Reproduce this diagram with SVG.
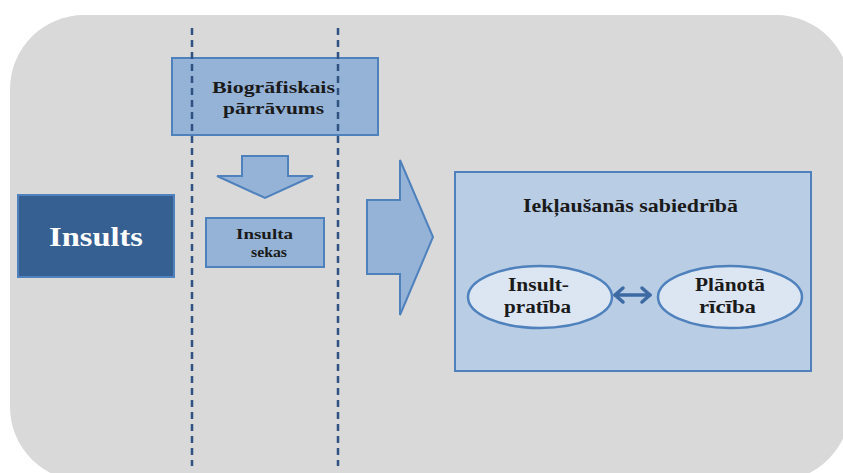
<svg xmlns="http://www.w3.org/2000/svg" width="843" height="473" viewBox="0 0 843 473">
<defs>
<style>
.box{fill:#95b3d7;stroke:#4f81bd;stroke-width:2}
.dash{stroke:#2f5283;stroke-width:2.5;stroke-dasharray:7 5;fill:none}
.ell{fill:#dce6f2;stroke:#4f81bd;stroke-width:2.5}
.t{font-family:'Liberation Serif','Times New Roman','DejaVu Serif',serif;font-weight:700;fill:#1a1a1a}
</style>
</defs>
<rect x="0" y="0" width="843" height="473" fill="#ffffff"/>
<rect x="10" y="15" width="840" height="466" rx="74" ry="74" fill="#d9d9d9"/>
<g id="biografiskais">
<rect class="box" x="172" y="58" width="206" height="77"/>
<text class="t" x="212" y="93" font-size="17.5" textLength="123" lengthAdjust="spacingAndGlyphs">Biogrāfiskais</text>
<text class="t" x="223" y="114" font-size="17.5" textLength="101" lengthAdjust="spacingAndGlyphs">pārrāvums</text>
</g>
<g id="arrow-down">
<polygon class="box" points="242,156 288,156 288,176 313,176 265,198 217,176 242,176"/>
</g>
<g id="insults">
<rect x="18" y="195" width="156" height="82" fill="#376092" stroke="#4f81bd" stroke-width="2"/>
<text class="t" x="49" y="246" font-size="27" textLength="94" lengthAdjust="spacingAndGlyphs" style="fill:#ffffff">Insults</text>
</g>
<g id="insulta-sekas">
<rect class="box" x="206" y="218" width="118" height="49"/>
<text class="t" x="236" y="239" font-size="15" textLength="57" lengthAdjust="spacingAndGlyphs">Insulta</text>
<text class="t" x="251" y="257" font-size="15" textLength="36" lengthAdjust="spacingAndGlyphs">sekas</text>
</g>
<g id="arrow-right">
<polygon class="box" points="367,200 400,200 400,160 433,237 400,315 400,274 367,274"/>
</g>
<g id="iekļausanas">
<rect x="455" y="172" width="356" height="199" fill="#b9cde5" stroke="#4f81bd" stroke-width="2"/>
<text class="t" x="523" y="212" font-size="19" textLength="215" lengthAdjust="spacingAndGlyphs">Iekļaušanās sabiedrībā</text>
</g>
<g id="insultpratiba">
<ellipse class="ell" cx="540" cy="297" rx="72" ry="31"/>
<text class="t" x="508" y="291" font-size="18" textLength="61" lengthAdjust="spacingAndGlyphs">Insult-</text>
<text class="t" x="504" y="313" font-size="18" textLength="67" lengthAdjust="spacingAndGlyphs">pratība</text>
</g>
<g id="planota-riciba">
<ellipse class="ell" cx="730" cy="297" rx="72" ry="31"/>
<text class="t" x="695" y="291" font-size="18" textLength="70" lengthAdjust="spacingAndGlyphs">Plānotā</text>
<text class="t" x="699" y="313" font-size="18" textLength="57" lengthAdjust="spacingAndGlyphs">rīcība</text>
</g>
<g id="connectors">
<line class="dash" x1="192" y1="28" x2="192" y2="466"/>
<line class="dash" x1="338" y1="28" x2="338" y2="466"/>
<g stroke="#3d6aa2" stroke-width="3.5" fill="none" stroke-linecap="round" stroke-linejoin="round">
<line x1="615" y1="295" x2="650" y2="295"/>
<polyline points="623,288 615,295 623,302"/>
<polyline points="642,288 650,295 642,302"/>
</g>
</g>
</svg>
